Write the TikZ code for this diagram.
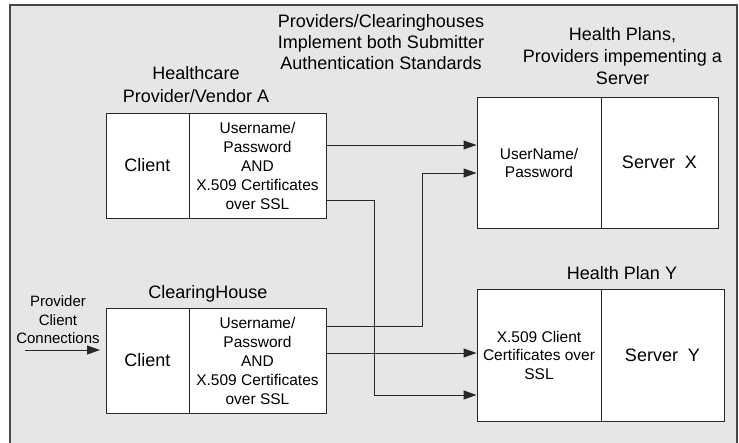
\documentclass[tikz,border=0pt]{standalone}
\usepackage{fontspec}
\setmainfont{Liberation Sans}
\usetikzlibrary{arrows.meta}
\definecolor{bgc}{RGB}{230,230,230}
\definecolor{edgec}{RGB}{40,40,40}
\definecolor{framec}{RGB}{70,70,70}
\begin{document}
\begin{tikzpicture}[x=1pt,y=-1pt,
  part/.style={draw=edgec, fill=white, line width=1pt, inner sep=0pt, align=center, text=black},
  lbl/.style={inner sep=0pt, align=center, text=black},
  arr/.style={draw=edgec, line width=1pt, -{Triangle[length=13pt,width=9pt]}},
  big/.style={font=\fontsize{18}{22}\selectfont},
  small/.style={font=\fontsize{15.5}{19}\selectfont},
  mid/.style={font=\fontsize{15}{18.5}\selectfont}]
\useasboundingbox (0,0) rectangle (739,442);
\clip (0,0) rectangle (739,442);
\draw[draw=framec, fill=bgc, line width=1.3pt] (10,5) rectangle (737,470);

% labels
\node[lbl, font=\fontsize{18}{21}\selectfont] (tTop) at (381,42.5) {Providers/Clearinghouses\\Implement both Submitter\\Authentication Standards};
\node[lbl, font=\fontsize{18}{23}\selectfont] (tA) at (196,85) {Healthcare\\Provider/Vendor A};
\node[lbl, big] (tHP) at (622.5,56) {Health Plans,\\Providers impementing a\\Server};
\node[lbl, big, anchor=base] (tCH) at (208,298.5) {ClearingHouse};
\node[lbl, big, anchor=base] (tHY) at (622,279.5) {Health Plan Y};
\node[lbl, mid] (tPC) at (58,320) {Provider\\Client\\Connections};

% boxes
\node[part, big, minimum width=83pt, minimum height=105pt] (aL) at (147.5,165.5) {\raisebox{-5.5pt}{Client}};
\node[part, small, minimum width=137pt, minimum height=105pt] (aR) at (257.5,165.5) {Username/\\Password\\AND\\X.509 Certificates\\over SSL};
\node[part, big, minimum width=83pt, minimum height=105pt] (cL) at (147.5,360.5) {\raisebox{-5.5pt}{Client}};
\node[part, small, minimum width=137pt, minimum height=105pt] (cR) at (257.5,360.5) {Username/\\Password\\AND\\X.509 Certificates\\over SSL};
\node[part, font=\fontsize{15.5}{18}\selectfont, minimum width=124pt, minimum height=131pt] (sxL) at (539,162.5) {UserName/\\Password};
\node[part, big, minimum width=117pt, minimum height=131pt] (sxR) at (659.5,162.5) {Server\ \ X};
\node[part, font=\fontsize{15.5}{18.5}\selectfont, minimum width=124pt, minimum height=132pt] (hyL) at (539,355) {X.509 Client\\Certificates over\\SSL};
\node[part, big, minimum width=123pt, minimum height=132pt] (hyR) at (662.5,355) {Server\ \ Y};

% connector end points
\coordinate (a1) at ([yshift=20.5pt]aR.east);
\coordinate (a2) at ([yshift=-34.5pt]aR.east);
\coordinate (c1) at ([yshift=34.5pt]cR.east);
\coordinate (c2) at ([yshift=7.5pt]cR.east);
\coordinate (x2) at ([yshift=-10.5pt]sxL.west);
\coordinate (y2) at ([yshift=-40pt]hyL.west);
\coordinate (p0) at (25,350);
\coordinate (p1) at (100,350);

\draw[arr] (a1) -- (a1 -| sxL.west);
\draw[arr] (a2) -- ++(48,0) |- (y2);
\draw[arr] (c1) -- ++(96,0) |- (x2);
\draw[arr] (c2) -- (c2 -| hyL.west);
\draw[arr] (p0) -- (p1);
\end{tikzpicture}
\end{document}
